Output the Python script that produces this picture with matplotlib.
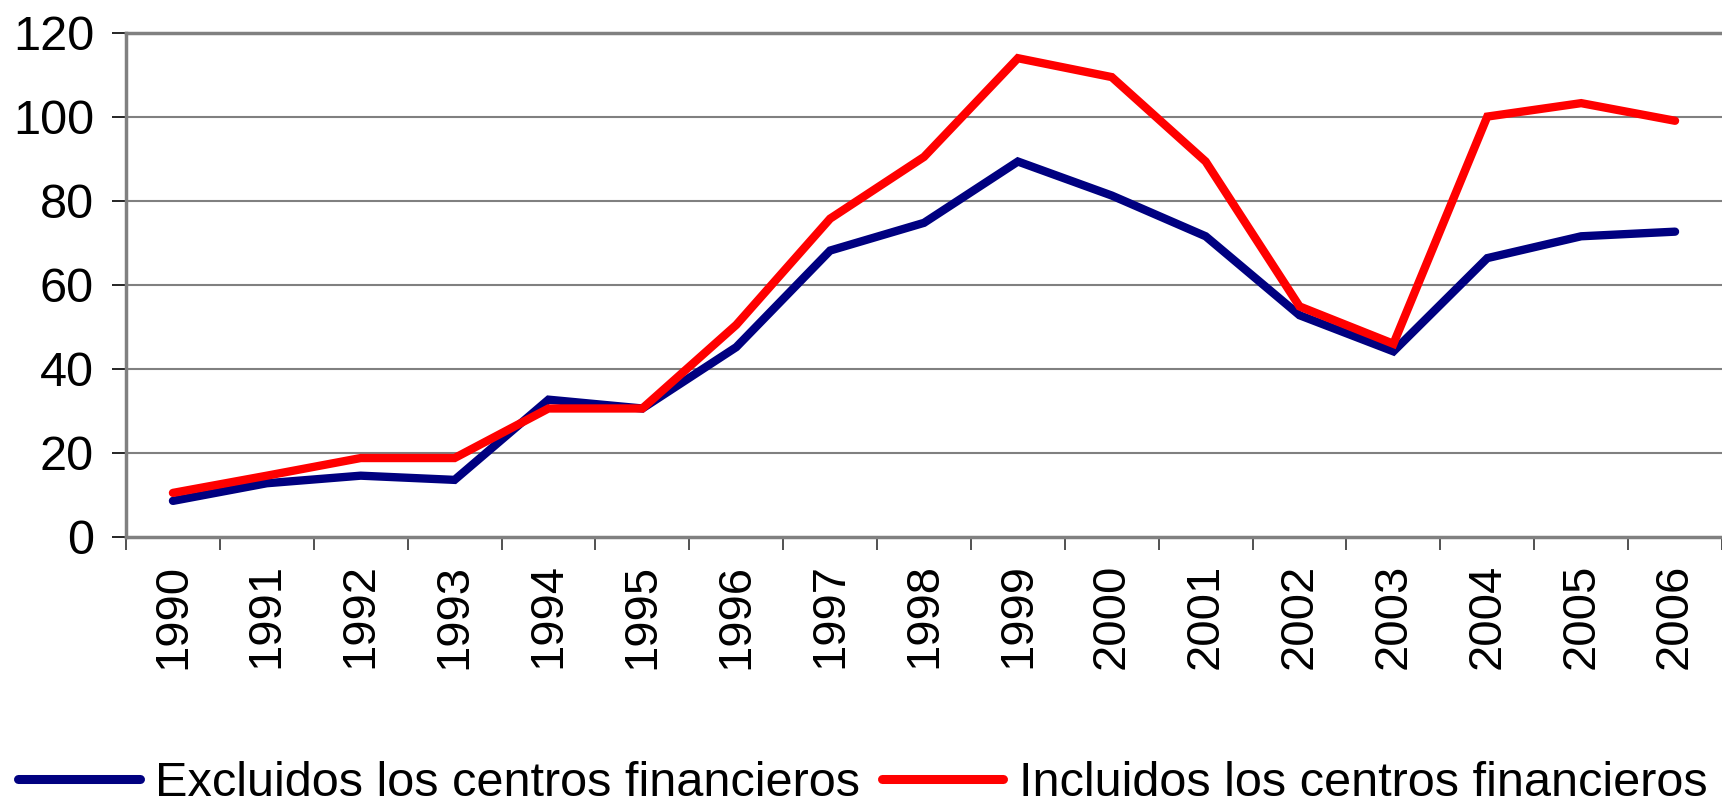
import matplotlib
matplotlib.use("Agg")
import matplotlib.pyplot as plt
import numpy as np

years = ["1990", "1991", "1992", "1993", "1994", "1995", "1996", "1997", "1998",
         "1999", "2000", "2001", "2002", "2003", "2004", "2005", "2006"]
excluidos = [8.6, 12.8, 14.6, 13.6, 32.7, 30.6, 45.2, 68.2, 74.8,
             89.4, 81.3, 71.6, 52.8, 44.2, 66.4, 71.6, 72.7]
incluidos = [10.5, 14.6, 18.8, 18.8, 30.6, 30.6, 50.5, 75.8, 90.5,
             114.0, 109.5, 89.4, 54.9, 46.0, 100.1, 103.3, 99.1]
yticks = [0, 20, 40, 60, 80, 100, 120]
labels = ["Excluidos los centros financieros", "Incluidos los centros financieros"]

plt.rcParams['font.family'] = ['Liberation Sans', 'DejaVu Sans']

fig = plt.figure(figsize=(17.22, 8.10), dpi=100)
ax = fig.add_axes([126/1722, 1 - 537/810, 1 - 126/1722, (537 - 33)/810])

x = np.arange(len(years))
l1, = ax.plot(x, excluidos, color='#000080', lw=6, solid_joinstyle='miter', solid_capstyle='round')
l2, = ax.plot(x, incluidos, color='#FF0000', lw=6, solid_joinstyle='miter', solid_capstyle='round')

ax.set_xlim(-0.5, len(years) - 0.5)
ax.set_ylim(0, 120)
ax.set_yticks(yticks)
ax.set_yticklabels([str(v) for v in yticks], fontsize=35)
ax.tick_params(axis='y', length=10, width=1.2, pad=13, color='black')

ax.set_xticks(x)
ax.set_xticklabels(years, rotation=90, fontsize=34)
ax.tick_params(axis='x', which='major', length=0, pad=19)
ax.set_xticks(np.arange(len(years) + 1) - 0.5, minor=True)
ax.tick_params(axis='x', which='minor', length=9.5, width=1.2, color='#333333')

for v in yticks[1:-1]:
    ax.axhline(v, color='#808080', lw=1.5, zorder=0)

for s in ['left', 'bottom', 'top']:
    ax.spines[s].set_color('#808080')
    ax.spines[s].set_linewidth(2.5)
ax.spines['right'].set_visible(False)

leg = fig.legend([l1, l2], labels, loc='center left', bbox_to_anchor=(18/1722, 1 - 784/810),
                 ncol=2, frameon=False, handlelength=2.5, handletextpad=0.32,
                 columnspacing=0.45, borderpad=0, borderaxespad=0,
                 prop={'size': 35})
for h in leg.legend_handles:
    h.set_linewidth(6.5)

fig.savefig("out.png", dpi=100)
